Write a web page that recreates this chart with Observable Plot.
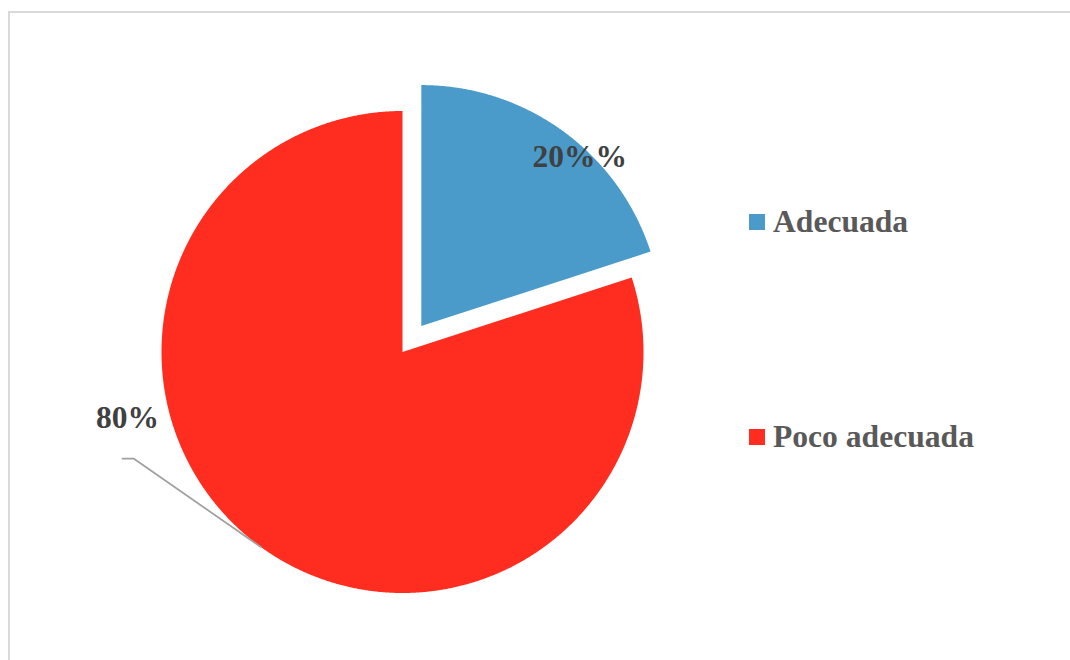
<!DOCTYPE html>
<html>
<head>
<meta charset="utf-8">
<script src="https://cdn.jsdelivr.net/npm/d3@7"></script>
<script src="https://cdn.jsdelivr.net/npm/@observablehq/plot@0.6"></script>
<style>
  html, body { margin: 0; padding: 0; background: #fff; }
  #wrap { position: relative; width: 1070px; height: 660px; overflow: hidden; }
  #frame { position: absolute; left: 8px; top: 11px; width: 1100px; height: 700px;
           border-left: 2px solid #d9d9d9; border-top: 2px solid #d9d9d9; box-sizing: border-box; }
  #chart { position: absolute; left: 0; top: 0; }
  .legend { position: absolute; left: 749px; font-family: "Liberation Serif", serif; font-weight: bold;
            font-size: 31.6px; color: #595959; }
  .item { position: absolute; display: flex; align-items: center; line-height: 1; white-space: nowrap; }
  .sw { width: 16px; height: 16px; margin-right: 8px; }
</style>
</head>
<body>
<div id="wrap">
  <div id="frame"></div>
  <div id="chart"></div>
  <div class="legend" id="legend"></div>
</div>
<script>
// ---- data ----
const categories = ["Adecuada", "Poco adecuada"];
const values = [20, 80];
const labels = ["20%%", "80%"];
const colors = ["#4a9bc9", "#ff2d20"];

// ---- layout (pie in unit radius coordinates) ----
const W = 1070, H = 660;
const cx = 402, cy = 351.5, R = 241;           // pixel placement of pie centre / radius
const xDomain = [(0 - cx) / R, (W - cx) / R];
const yDomain = [(cy - H) / R, (cy - 0) / R];
const explode = [0.133, 0];

const total = d3.sum(values);
let acc = 0;
const slices = values.map((v, i) => {
  const a0 = acc / total * 2 * Math.PI;
  acc += v;
  const a1 = acc / total * 2 * Math.PI;
  const mid = (a0 + a1) / 2;
  const ox = explode[i] * Math.sin(mid), oy = explode[i] * Math.cos(mid);
  return {i, cat: categories[i], label: labels[i], a0, a1, mid, ox, oy};
});

// polygon points for each wedge
const pts = [];
for (const s of slices) {
  pts.push({cat: s.cat, x: s.ox, y: s.oy});
  const n = Math.max(4, Math.ceil((s.a1 - s.a0) / (Math.PI / 720)));
  for (let k = 0; k <= n; k++) {
    const a = s.a0 + (s.a1 - s.a0) * k / n;
    pts.push({cat: s.cat, x: s.ox + Math.sin(a), y: s.oy + Math.cos(a)});
  }
}

// labels
const blue = slices[0], red = slices[1];
const blueLabel = [{x: blue.ox + 0.85 * Math.sin(blue.mid), y: blue.oy + 0.85 * Math.cos(blue.mid), t: blue.label}];
const elbow = {x: -1.116, y: -0.442};
const leader = [
  {x: Math.sin(red.mid), y: Math.cos(red.mid)},
  elbow,
  {x: elbow.x - 0.046, y: elbow.y}
];
const redLabel = [{x: elbow.x, y: elbow.y, t: red.label}];

const font = {fontFamily: "Liberation Serif, serif", fontWeight: "bold", fontSize: 31.5, fill: "#404040"};

const plot = Plot.plot({
  width: W, height: H,
  margin: 0,
  x: {domain: xDomain, axis: null},
  y: {domain: yDomain, axis: null},
  color: {domain: categories, range: colors},
  marks: [
    Plot.line(pts, {x: "x", y: "y", z: "cat", fill: "cat", stroke: "none", curve: "linear-closed"}),
    Plot.line(leader, {x: "x", y: "y", stroke: "#a0a0a0", strokeWidth: 1.75, curve: "linear"}),
    Plot.text(blueLabel, {x: "x", y: "y", text: "t", dx: 38, dy: -3, ...font}),
    Plot.text(redLabel, {x: "x", y: "y", text: "t", dx: -6, dy: -41, ...font})
  ]
});
document.getElementById("chart").appendChild(plot);

// legend
const leg = document.getElementById("legend");
const legTops = [206, 421];
categories.forEach((c, i) => {
  const it = document.createElement("div");
  it.className = "item";
  it.style.top = legTops[i] + "px";
  it.innerHTML = `<span class="sw" style="background:${colors[i]}"></span><span>${c}</span>`;
  leg.appendChild(it);
});
</script>
</body>
</html>
